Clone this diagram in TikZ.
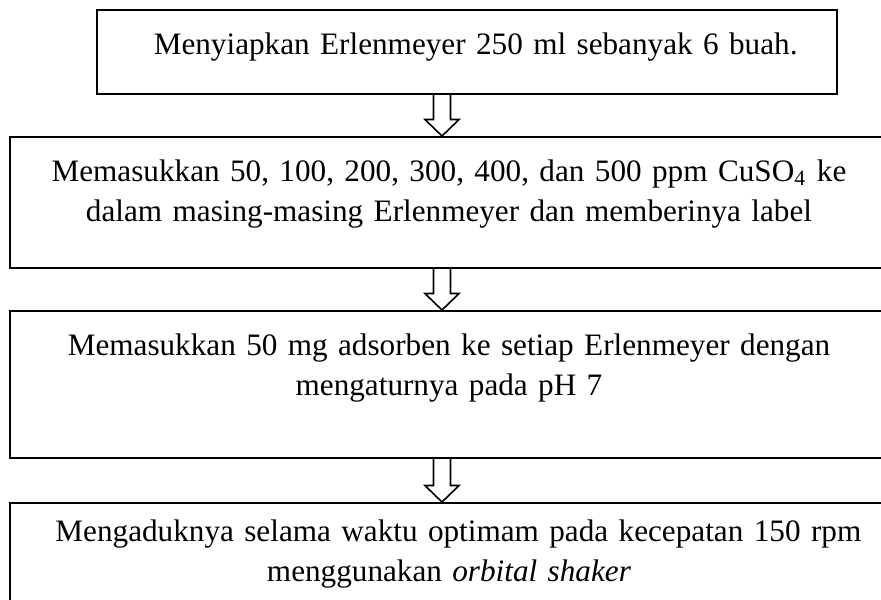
\documentclass[tikz,border=0pt]{standalone}
\usepackage{fontspec}
\setmainfont{Liberation Serif}
\usepackage{tikz}
\usetikzlibrary{calc,positioning}
\tikzstyle{stepbox} = [draw, line width=0.75pt, inner sep=0pt, align=center, text=black, font=\fontsize{11.7}{15.3}\selectfont]
\tikzstyle{flowarrow} = [draw, line width=0.6pt, to path={let \p1=(\tikztostart), \p2=(\tikztotarget) in (\x1-3.2pt,\y1) -- (\x1-3.2pt,\y2+6.2pt) -- (\x1-6.4pt,\y2+6.2pt) -- (\x1,\y2) -- (\x1+6.4pt,\y2+6.2pt) -- (\x1+3.2pt,\y2+6.2pt) -- (\x1+3.2pt,\y1)}]

\begin{document}
\begin{tikzpicture}[x=0.375pt, y=-0.375pt]

\useasboundingbox (0,0) rectangle (881,599);

% steps =============================

\node[stepbox, anchor=north, text width=277.5pt, text height=16.5pt, text depth=15pt] (prep) at (467,9) {\hspace*{6.5pt}Menyiapkan Erlenmeyer 250 ml sebanyak 6 buah.};
\node[stepbox, anchor=north, text width=329.25pt, text height=16.5pt, text depth=32.6pt] (dose) at (449,136) {Memasukkan 50, 100, 200, 300, 400, dan 500 ppm CuSO\textsubscript{4} ke\\ dalam masing-masing Erlenmeyer dan memberinya label};
\node[stepbox, anchor=north, text width=329.25pt, text height=16.5pt, text depth=38.6pt] (adsorb) at (449,310) {Memasukkan 50 mg adsorben ke setiap Erlenmeyer dengan\\ mengaturnya pada pH 7};
\node[stepbox, anchor=north, text width=329.25pt, text height=14.25pt, text depth=41pt] (shake) at (449,502) {\hspace*{7pt}Mengaduknya selama waktu optimam pada kecepatan 150 rpm\\ menggunakan \textit{orbital shaker}};

\coordinate (ax) at (442,0);

%edges
\draw[flowarrow] (prep.south -| ax) to (dose.north -| ax);
\draw[flowarrow] (dose.south -| ax) to (adsorb.north -| ax);
\draw[flowarrow] (adsorb.south -| ax) to (shake.north -| ax);

\end{tikzpicture}
\end{document}
